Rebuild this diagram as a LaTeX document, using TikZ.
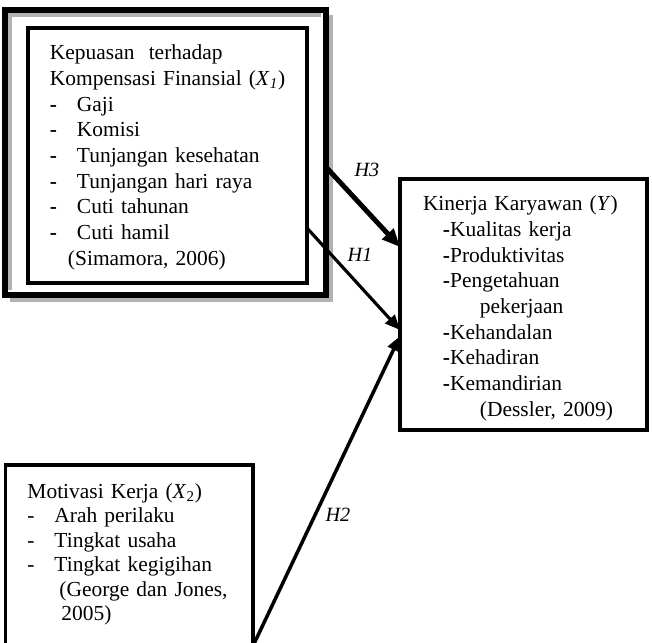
\documentclass[tikz,border=0pt]{standalone}
\usepackage{fontspec}
\setmainfont{Liberation Serif}
\usetikzlibrary{arrows.meta, positioning, fit, calc}
\tikzset{konsep/.style={draw, line width=2.3pt, align=left, inner ysep=0pt, inner xsep=0.44cm, outer sep=0pt, font=\fontsize{12.2pt}{14.6pt}\selectfont}}
\tikzset{bingkai/.style={draw, line width=3.4pt, inner xsep=0.42cm, inner ysep=0.3cm, outer sep=0pt}}
\tikzset{bayang/.style={draw=black!30, line width=2.3pt}}
\tikzset{hipotesis/.style={font=\fontsize{11.5pt}{13pt}\selectfont\itshape}}
\tikzset{pengaruh/.style={-{Triangle[length=0.3cm, width=0.25cm]}, line width=1.8pt}}
\newcommand{\butir}[1]{\makebox[0.54cm][l]{\textbf{-}}#1}
\newcommand{\butirtipis}[1]{\makebox[0.54cm][l]{-}#1}

\begin{document}
\begin{tikzpicture}[x=0.02cm, y=-0.02cm]
\useasboundingbox (0,0) rectangle (652,642);

\node[konsep, anchor=north west, text width=4.7cm, text height=0.64cm, text depth=4.46cm] (x1) at (28,28)
  {Kepuasan~ terhadap\\
   \mbox{Kompensasi Finansial (\textit{X}\textsubscript{\textit{1}})}\\
   \butir{Gaji}\\
   \butir{Komisi}\\
   \butir{Tunjangan kesehatan}\\
   \butir{Tunjangan hari raya}\\
   \butir{Cuti tahunan}\\
   \butir{Cuti hamil}\\
   \hspace*{0.36cm}(Simamora, 2006)};
\node[bingkai, fit=(x1), xshift=-0.04cm, yshift=0.06cm] (x1frame) {};
\draw[bayang] ($(x1frame.south west)+(5,-5)$) |- ($(x1frame.north east)+(-5,5)$);
\draw[bayang] ($(x1frame.north east)+(5,5)$) |- ($(x1frame.south west)+(5,5)$);

\node[konsep, anchor=north west, text width=4.02cm, inner xsep=0.46cm, text height=0.64cm, text depth=4.38cm] (y) at (400,179)
  {Kinerja Karyawan (\textit{Y})\\
   \hspace*{0.4cm}\textbf{-}Kualitas kerja\\
   \hspace*{0.4cm}\textbf{-}Produktivitas\\
   \hspace*{0.4cm}\textbf{-}Pengetahuan\\
   \hspace*{1.14cm}pekerjaan\\
   \hspace*{0.4cm}\textbf{-}Kehandalan\\
   \hspace*{0.4cm}\textbf{-}Kehadiran\\
   \hspace*{0.4cm}\textbf{-}Kemandirian\\
   \hspace*{1.14cm}(Dessler, 2009)};

\node[konsep, anchor=north west, line width=2.1pt, text width=4.07cm, text height=0.66cm, text depth=2.96cm, font=\fontsize{12.2pt}{14pt}\selectfont] (x2) at (5.5,465)
  {Motivasi Kerja (\textit{X}\textsubscript{2})\\
   \butirtipis{Arah perilaku}\\
   \butirtipis{Tingkat usaha}\\
   \butirtipis{Tingkat kegigihan}\\
   \hspace*{0.64cm}(George dan Jones,\\
   \hspace*{0.68cm}2005)};

\draw[pengaruh, line width=2.8pt, -{Triangle[length=0.36cm, width=0.3cm]}] ($(x1frame.north east)+(0,157)$) -- ($(y.north west)+(0,68)$)
  node[hipotesis, pos=0, xshift=0.82cm, yshift=-0.06cm] (h3) {H3};
\draw[pengaruh] ($(x1.north east)+(0,200)$) -- ($(y.north west)+(0,151)$)
  node[hipotesis, pos=0.5, xshift=0.13cm, yshift=0.48cm] (h1) {H1};
\draw[pengaruh, line width=2pt] (x2.south east) -- ($(y.north west)+(0,157)$)
  node[hipotesis, pos=0.5, xshift=0.23cm, yshift=-0.48cm] (h2) {H2};
\end{tikzpicture}
\end{document}
